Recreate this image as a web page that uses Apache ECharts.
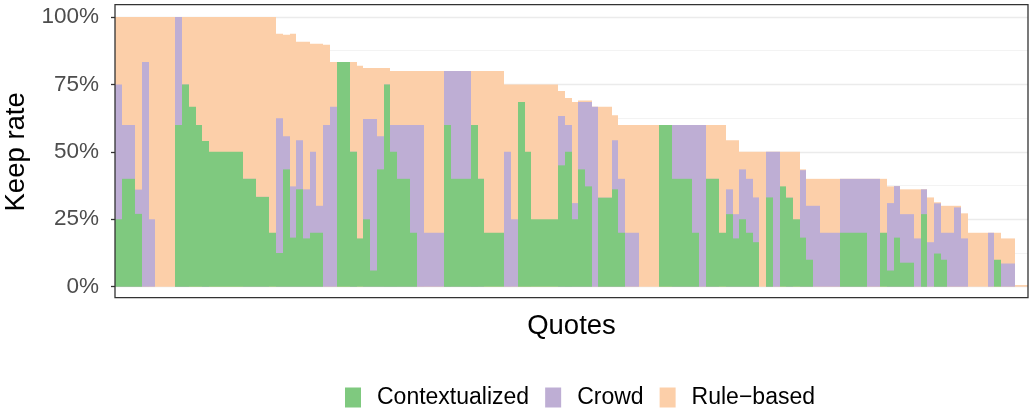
<!DOCTYPE html>
<html>
<head>
<meta charset="utf-8">
<script src="https://cdn.jsdelivr.net/npm/echarts@6/dist/echarts.min.js"></script>
<style>
  html, body { margin: 0; padding: 0; background: #fff; }
  #chart { width: 1030px; height: 412px; }
</style>
</head>
<body>
<div id="chart"></div>
<script>
// Keep rate (%) per quote
const ruleBased = [
  100,100,100,100,100,100,100,100,100,100,100,100,100,100,100,100,100,100,100,100,100,100,100,100,
  93.8,93.4,93.8,90.8,90.8,90.1,90.1,89.7,83.3,83.3,83.3,83.3,81.9,81.1,81.1,81.1,81.1,
  80,80,80,80,80,80,80,80,80,80,80,80,80,80,80,80,80,
  75,75,75,75,75,75,75,75,
  72.6,70,68.5,69,69,66.7,66.7,66.7,63.6,
  60,60,60,60,60,60,60,60,60,60,60,60,60,60,60,60,
  54.3,54.3,
  50,50,50,50,50,50,50,50,50,
  43.5,
  40,40,40,40,40,40,40,40,40,40,40,40,
  37.2,37.3,36.1,36.1,36.1,36.1,33.1,31.3,30,30,30,27.2,
  20,20,20,20,20,
  17.9,17.9,
  0.6,0.6
];
const crowd = [
  75,60,60,36,83.3,25,0,0,0,100,75,0,0,54,0,0,0,0,0,40,40,33.3,33.3,0,
  62.5,55.8,37.2,54.3,36.1,50,30,60,66.7,0,0,50,0,62.2,62.2,55.8,75,
  60,60,60,60,60,20,20,20,80,80,80,80,60,40,0,0,0,
  50,25,0,0,0,0,0,0,
  63.3,60,31,68.5,68.5,66.7,33,33,54.3,
  40,20,20,0,0,0,0,0,60,60,60,60,60,40,40,0,
  36.1,26.9,
  43.5,40,33.1,0,50,50,0,33,0,
  43.2,
  30,30,20,20,20,40,40,40,40,40,40,0,
  31,37.3,26.9,26.9,17.9,36.1,16.5,30.9,20,20,29.4,17.9,
  0,0,0,20,0,
  8.6,8.6,
  0,0
];
const contextualized = [
  25,40,40,27,0,0,0,0,0,60,75,66.7,60,54,50,50,50,50,50,40,40,33.3,33.3,20,
  12.5,43.5,18.2,36.1,17.9,20,20,0,0,83.3,83.3,50,17.9,25,6,43.5,75,
  50,40,40,20,0,0,0,0,60,40,40,40,60,40,20,20,20,
  0,0,68.5,50,25,25,25,25,
  45,50,25,43.5,37.2,0,33,33,36.1,
  20,0,0,0,0,0,60,60,40,40,40,20,0,40,40,20,
  26.9,17.9,
  25,20,16.5,0,33.1,0,37.2,33,25,
  18.2,
  10,0,0,0,0,20,20,20,20,0,0,20,
  6,18.2,8.9,8.9,0,26.9,0,12.3,10,0,0,0,
  0,0,0,0,10,
  0,0,
  0,0
];
const quotes = ruleBased.map((_, i) => 'Q' + (i + 1));
const yTicks = [0, 25, 50, 75, 100];

const FONT = '"Liberation Sans", Arial, Helvetica, sans-serif';
const chart = echarts.init(document.getElementById('chart'), null, { renderer: 'canvas' });

// full-width bars, edges snapped to whole pixels so neighbours join without seams
function renderBar(params, api) {
  const i = api.value(0);
  const v = api.value(1);
  if (!(v > 0)) return null;
  const base = api.coord([i, 0]);
  const top = api.coord([i, v]);
  const w = api.size([1, 0])[0];
  const x0 = Math.round(base[0] - w / 2);
  const x1 = Math.round(base[0] + w / 2);
  return {
    type: 'rect',
    shape: { x: x0, y: top[1], width: x1 - x0, height: base[1] - top[1] },
    style: api.style()
  };
}
const toPairs = arr => arr.map((v, i) => [i, v]);

chart.setOption({
  animation: false,
  backgroundColor: '#ffffff',
  textStyle: { fontFamily: FONT },
  grid: { left: 115, right: 2, top: 17, bottom: 125.3, containLabel: false, outerBoundsMode: 'none' },
  legend: {
    data: ['Contextualized', 'Crowd', 'Rule\u2212based'],
    left: 345, top: 386, padding: 0,
    icon: 'rect', itemWidth: 16, itemHeight: 20, itemGap: 16,
    textStyle: { fontSize: 23, color: '#000', fontFamily: FONT, padding: [0, 0, 0, 11] }
  },
  xAxis: {
    type: 'category', data: quotes, boundaryGap: true,
    axisLine: { show: false }, axisTick: { show: false }, axisLabel: { show: false },
    splitLine: { show: false },
    name: 'Quotes', nameLocation: 'middle', nameGap: 26,
    nameTextStyle: { fontSize: 27.5, color: '#000', fontFamily: FONT }
  },
  yAxis: {
    type: 'value', min: 0, max: 100, interval: 25,
    axisLine: { show: false },
    axisTick: { show: true, length: 4, lineStyle: { color: '#333333', width: 1.3 } },
    axisLabel: {
      fontSize: 22.5, color: '#4d4d4d', margin: 16, fontFamily: FONT,
      formatter: v => (yTicks.indexOf(v) >= 0 ? v + '%' : '')
    },
    splitLine: { show: true, lineStyle: { color: '#ebebeb', width: 1.4 } },
    minorTick: { show: false, splitNumber: 2 },
    minorSplitLine: { show: true, lineStyle: { color: '#f0f0f0', width: 0.8 } },
    name: 'Keep rate', nameLocation: 'middle', nameGap: 80, nameRotate: 90,
    nameTextStyle: { fontSize: 27.5, color: '#000', fontFamily: FONT }
  },
  series: [
    { name: 'Rule\u2212based', type: 'custom', renderItem: renderBar, data: toPairs(ruleBased),
      encode: { x: 0, y: 1 }, itemStyle: { color: '#fccfa9' }, z: 2 },
    { name: 'Crowd', type: 'custom', renderItem: renderBar, data: toPairs(crowd),
      encode: { x: 0, y: 1 }, itemStyle: { color: '#beaed4' }, z: 3 },
    { name: 'Contextualized', type: 'custom', renderItem: renderBar, data: toPairs(contextualized),
      encode: { x: 0, y: 1 }, itemStyle: { color: '#7fc97f' }, z: 4 }
  ],
  graphic: [{
    type: 'rect', z: 100, silent: true,
    shape: { x: 115, y: 4.7, width: 913, height: 293 },
    style: { fill: 'none', stroke: '#333333', lineWidth: 1.3 }
  }]
});
</script>
</body>
</html>
